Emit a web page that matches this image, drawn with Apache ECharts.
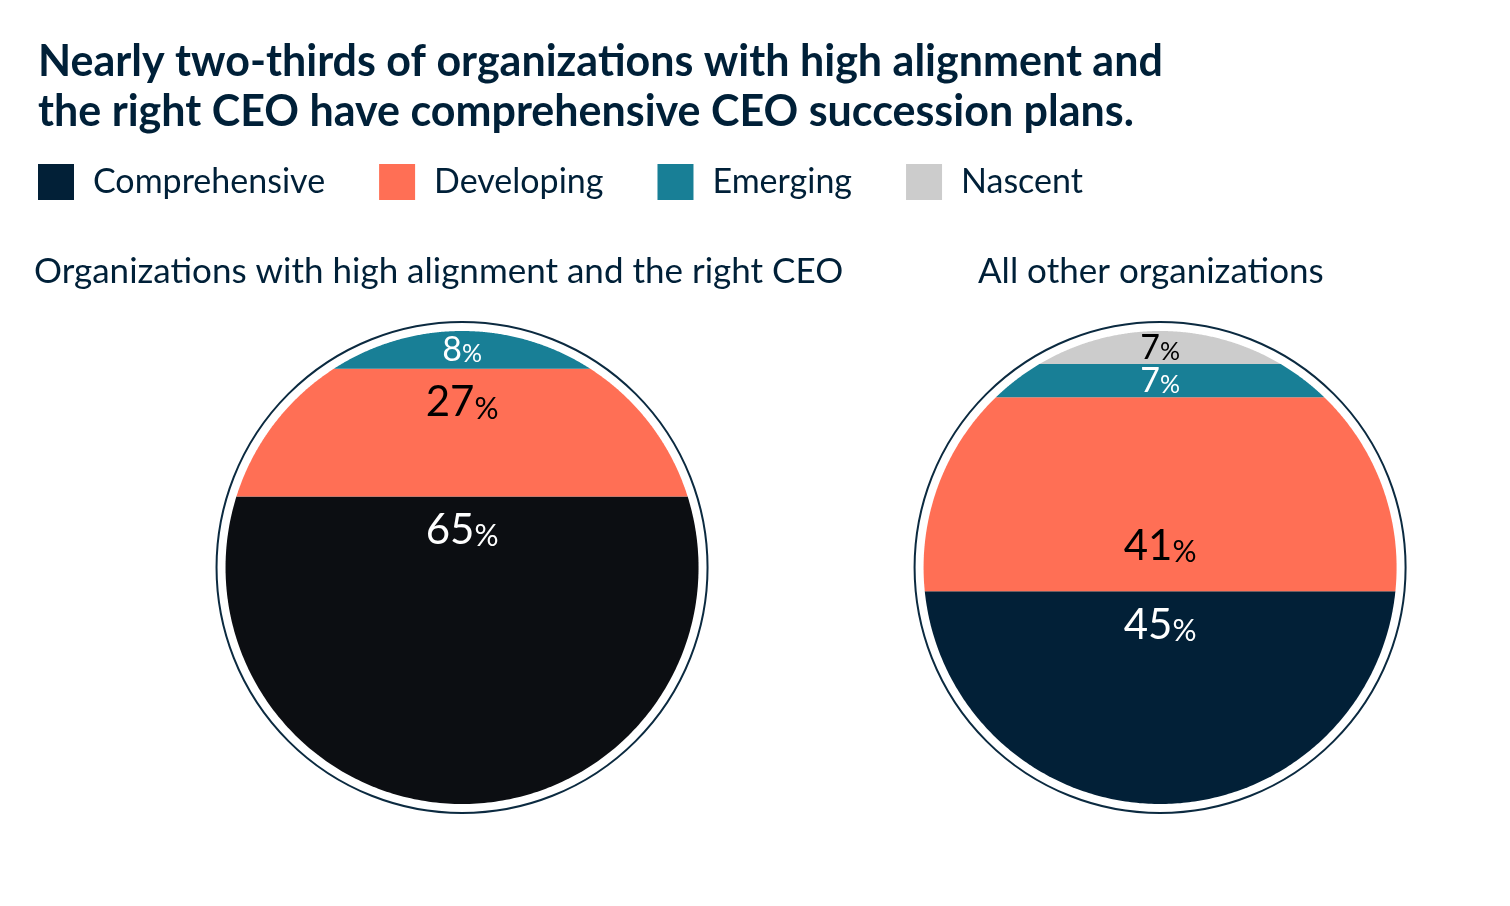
<!DOCTYPE html>
<html><head><meta charset="utf-8">
<script src="https://cdn.jsdelivr.net/npm/echarts@6/dist/echarts.min.js"></script>
<style>html,body{margin:0;padding:0;background:#fff}#c{width:1510px;height:906px}</style>
</head><body><div id="c"></div>
<script>
const categories = ['Comprehensive','Developing','Emerging','Nascent'];
const groups = ['Organizations with high alignment and the right CEO','All other organizations'];
const comprehensive = [65, 45];
const developing = [27, 41];
const emerging = [8, 7];
const nascent = [0, 7];
const values = [comprehensive, developing, emerging, nascent];
const colorsLeft = ['#0c0e12','#ff6f55','#187f96','#cccccc'];
const colorsRight = ['#022037','#ff6f55','#187f96','#cccccc'];
const textColors = ['#ffffff','#000000','#ffffff','#000000'];
const centersX = [0.2014, 0.797];
const FONT = 'Lato';

const chart = echarts.init(document.getElementById('c'));

function bandPolygon(cx, cy, r, yTop, yBot) {
  const a1 = Math.asin(Math.max(-1, Math.min(1, (yTop - cy) / r)));
  const a2 = Math.asin(Math.max(-1, Math.min(1, (yBot - cy) / r)));
  const pts = [];
  const n = 120;
  for (let i = 0; i <= n; i++) {
    const a = a1 + (a2 - a1) * i / n;
    pts.push([cx + r * Math.cos(a), cy + r * Math.sin(a)]);
  }
  for (let i = n; i >= 0; i--) {
    const a = a1 + (a2 - a1) * i / n;
    pts.push([cx - r * Math.cos(a), cy + r * Math.sin(a)]);
  }
  return pts;
}

const series = categories.map((cat, ci) => {
  const data = [];
  for (let g = 0; g < 2; g++) {
    let start = 0;
    for (let k = 0; k < ci; k++) start += values[k][g];
    data.push([g, start, start + values[ci][g], values[ci][g]]);
  }
  return {
    type: 'custom', name: cat, coordinateSystem: 'cartesian2d',
    itemStyle: { color: colorsRight[ci] },
    data: data,
    renderItem: function (params, api) {
      const g = api.value(0), s = api.value(1), e = api.value(2), v = api.value(3);
      if (v <= 0) return null;
      const cx = api.coord([centersX[g], 0])[0];
      const yB = api.coord([0, 0])[1], yT = api.coord([0, 100])[1];
      const cy = (yB + yT) / 2, r = (yB - yT) / 2;
      const y1 = api.coord([0, e])[1], y2 = api.coord([0, s])[1];
      const h = y2 - y1;
      let ly;
      if (h < 60) ly = (y1 + y2) / 2;
      else if (ci === 1 && g === 1) ly = y1 + h * 0.77;
      else ly = y1 + 34;
      const big = h >= 60;
      return {
        type: 'group',
        children: [
          { type: 'polygon', shape: { points: bandPolygon(cx, cy, r, y1, y2) },
            style: { fill: g === 0 ? colorsLeft[ci] : colorsRight[ci] } },
          { type: 'text', x: cx, y: ly,
            style: { text: '{n|' + v + '}{p|%}', align: 'center', verticalAlign: 'middle',
              rich: { n: { fontFamily: FONT, fontSize: big ? 42 : 34, fill: textColors[ci], verticalAlign:'bottom' },
                      p: { fontFamily: FONT, fontSize: big ? 30 : 25, fill: textColors[ci], verticalAlign:'bottom' } } } }
        ]
      };
    }
  };
});

series.push({
  type: 'custom', name: 'ring', coordinateSystem: 'cartesian2d', silent: true,
  data: [[0],[1]], z: 0,
  renderItem: function (params, api) {
    const g = api.value(0);
    const cx = api.coord([centersX[g], 0])[0];
    const yB = api.coord([0, 0])[1], yT = api.coord([0, 100])[1];
    return { type: 'circle', shape: { cx: cx, cy: (yB + yT) / 2, r: (yB - yT) / 2 + 9 },
      style: { fill: '#fff', stroke: '#0b2a40', lineWidth: 2 } };
  }
});

chart.setOption({
  animation: false,
  title: [
    { text: 'Nearly two-thirds of organizations with high alignment and\nthe right CEO have comprehensive CEO succession plans.',
      left: 33, top: 32, textStyle: { fontFamily: FONT, fontWeight: 'bold', fontSize: 43, lineHeight: 50, color: '#002038' } },
    { text: groups[0], left: 29, top: 249, textStyle: { fontFamily: FONT, fontWeight: 'normal', fontSize: 35, color: '#002038' } },
    { text: groups[1], left: 973, top: 249, textStyle: { fontFamily: FONT, fontWeight: 'normal', fontSize: 35, color: '#002038' } }
  ],
  legend: {
    data: categories, left: 33, top: 159, icon: 'rect', itemWidth: 36, itemHeight: 36, itemGap: 54,
    textStyle: { fontFamily: FONT, fontSize: 34, color: '#002038', padding: [0,0,0,14] }, selectedMode: false
  },
  grid: { left: 226, width: 1172, top: 331, height: 473 },
  xAxis: { type: 'value', min: 0, max: 1, show: false },
  yAxis: { type: 'value', min: 0, max: 100, show: false },
  series: series
});
</script></body></html>
